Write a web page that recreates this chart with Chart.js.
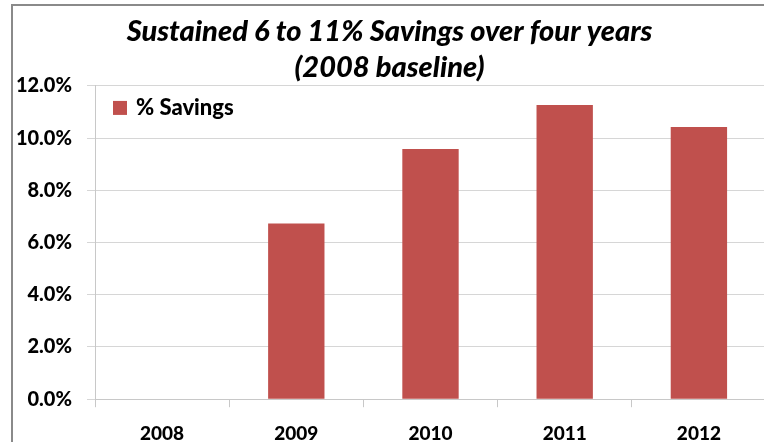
<!DOCTYPE html>
<html>
<head>
<meta charset="utf-8">
<script src="https://cdn.jsdelivr.net/npm/chart.js@4"></script>
<style>
    html, body { margin: 0; padding: 0; background: #fff; overflow: hidden; }
    #frame {
        position: absolute; left: 11px; top: 4px;
        border-left: 2px solid #8a8a8a; border-top: 2px solid #8a8a8a;
        width: 800px; height: 480px;
    }
    #chart { position: absolute; left: 0; top: 0; }
</style>
</head>
<body>
<div id="frame"><canvas id="chart" width="756" height="460"></canvas></div>
<script>
// data
const years = ['2008', '2009', '2010', '2011', '2012'];
const savings = [0, 6.73, 9.58, 11.27, 10.43];
const yTicks = [0, 2, 4, 6, 8, 10, 12];

const titleLines = ['Sustained 6 to 11% Savings over four years', '(2008 baseline)'];
const seriesName = '% Savings';
const barColor = '#C0504D';

// legend sits inside the plot, top left
const insideLegend = {
    id: 'insideLegend',
    afterDraw(chart) {
        const c = chart.ctx;
        const area = chart.chartArea;
        const ds = chart.data.datasets[0];
        c.save();
        c.fillStyle = ds.backgroundColor;
        c.fillRect(area.left + 18, area.top + 15, 14, 14);
        c.fillStyle = '#000';
        c.font = '900 22px Lato';
        c.textBaseline = 'middle';
        c.fillText(ds.label, area.left + 41, area.top + 22);
        c.restore();
    }
};

const ctx = document.getElementById('chart').getContext('2d');
new Chart(ctx, {
    type: 'bar',
    data: {
        labels: years,
        datasets: [{
            label: seriesName,
            data: savings,
            backgroundColor: barColor,
            borderWidth: 0,
            barPercentage: 0.42,
            categoryPercentage: 1.0
        }]
    },
    options: {
        responsive: false,
        animation: false,
        layout: { padding: { left: 0, right: 3, top: 0, bottom: 6 } },
        plugins: {
            title: {
                display: true,
                text: titleLines,
                color: '#000',
                font: { family: 'Lato', size: 29, weight: 900, style: 'italic', lineHeight: 1.24 },
                padding: { top: 8, bottom: 0 }
            },
            legend: { display: false },
            tooltip: { enabled: false }
        },
        scales: {
            x: {
                grid: {
                    display: true,
                    drawOnChartArea: false,
                    drawTicks: true,
                    tickLength: 8,
                    offset: true,
                    color: '#c8c8c8'
                },
                border: { display: true, color: '#c8c8c8' },
                ticks: {
                    color: '#000',
                    padding: 15,
                    font: { family: 'Lato', size: 19, weight: 900 }
                }
            },
            y: {
                min: 0,
                max: 12,
                afterBuildTicks: function (axis) {
                    axis.ticks = yTicks.map(v => ({ value: v }));
                },
                afterFit: function (axis) {
                    axis.width = 82;
                },
                grid: {
                    color: '#d6d6d6',
                    tickLength: 8,
                    drawTicks: true
                },
                border: { display: true, color: '#c8c8c8' },
                ticks: {
                    color: '#000',
                    padding: 15,
                    font: { family: 'Lato', size: 20, weight: 900 },
                    callback: function (value) { return value.toFixed(1) + '%'; }
                }
            }
        }
    },
    plugins: [insideLegend]
});
</script>
</body>
</html>
